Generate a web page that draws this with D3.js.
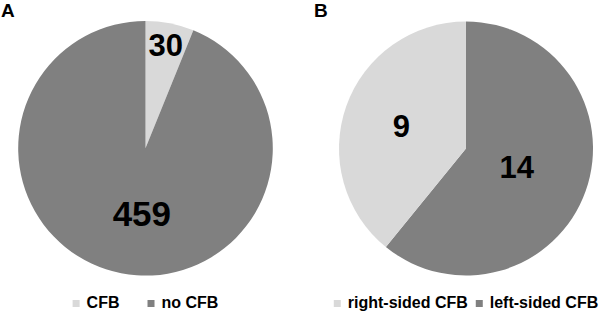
<!DOCTYPE html>
<html>
<head>
<meta charset="utf-8">
<script src="https://cdn.jsdelivr.net/npm/d3@7"></script>
<style>
  body { margin: 0; background: #fff; }
  svg { display: block; font-family: Arial, 'Liberation Sans', sans-serif; }
</style>
</head>
<body>
<div class="chart"></div>
<script>
// ======= TWO PIE PANELS (A / B) =======

// panel A
const labelsA = ['CFB', 'no CFB']
const valuesA = [30, 459]
const legendA = ['CFB', 'no CFB']

// panel B
const labelsB = ['left-sided CFB', 'right-sided CFB']
const valuesB = [14, 9]
const legendB = ['right-sided CFB', 'left-sided CFB']

const colors = {
  'CFB': '#d9d9d9',
  'no CFB': '#808080',
  'right-sided CFB': '#d9d9d9',
  'left-sided CFB': '#808080'
}

const width = 600
const height = 311

const svg = d3.select('.chart')
  .append('svg')
    .attr('width', width)
    .attr('height', height)

// layout per panel (label radius is fraction of r, nudge in px)
const panels = [
  { letter: 'A', lx: 1, cx: 145.5, cy: 148.3, r: 127.3,
    labels: labelsA, values: valuesA, legend: legendA,
    labelR: [0.83, 0.52], labelSize: [31, 35], nudge: [[0, 0], [9, 0]], legendGap: 28 },
  { letter: 'B', lx: 314, cx: 466, cy: 148.5, r: 127,
    labels: labelsB, values: valuesB, legend: legendB,
    labelR: [0.425, 0.54], labelSize: [31, 31], nudge: [[0, 0], [0, 0]], legendGap: 8 }
]

const pie = d3.pie()
  .sort(null)
  .value(d => d.value)

panels.forEach(p => {
  const data = p.labels.map((l, i) => ({ label: l, value: p.values[i] }))
  const arcs = pie(data)

  const g = svg.append('g')
    .attr('transform', `translate(${p.cx}, ${p.cy})`)

  const arc = d3.arc().innerRadius(0).outerRadius(p.r)

  g.selectAll('path')
    .data(arcs)
    .join('path')
      .attr('d', arc)
      .attr('fill', d => colors[d.data.label])

  // value labels
  g.selectAll('text')
    .data(arcs)
    .join('text')
      .each(function (d, i) {
        const lr = p.r * p.labelR[i]
        const c = d3.arc().innerRadius(lr).outerRadius(lr).centroid(d)
        const size = p.labelSize[i]
        d3.select(this)
          .attr('x', c[0] + p.nudge[i][0])
          .attr('y', c[1] + p.nudge[i][1] + size * 0.358)
          .attr('font-size', size)
      })
      .attr('text-anchor', 'middle')
      .attr('font-weight', 'bold')
      .attr('fill', '#000')
      .text(d => d.data.value)

  // panel letter
  svg.append('text')
    .attr('x', p.lx)
    .attr('y', 17)
    .attr('font-size', 19)
    .attr('font-weight', 'bold')
    .text(p.letter)

  // legend, centred under the pie
  const leg = svg.append('g')
  const items = leg.selectAll('g')
    .data(p.legend)
    .join('g')

  items.append('rect')
    .attr('width', 7)
    .attr('height', 7)
    .attr('y', -7.5)
    .attr('fill', d => colors[d])

  items.append('text')
    .attr('x', 14)
    .attr('font-size', 16)
    .attr('font-weight', 'bold')
    .attr('fill', '#000')
    .text(d => d)

  let x = 0
  items.each(function () {
    const w = 14 + d3.select(this).select('text').node().getComputedTextLength()
    d3.select(this).attr('transform', `translate(${x}, 0)`)
    x += w + p.legendGap
  })
  const total = x - p.legendGap
  leg.attr('transform', `translate(${p.cx - total / 2}, 307.5)`)
})
</script>
</body>
</html>
